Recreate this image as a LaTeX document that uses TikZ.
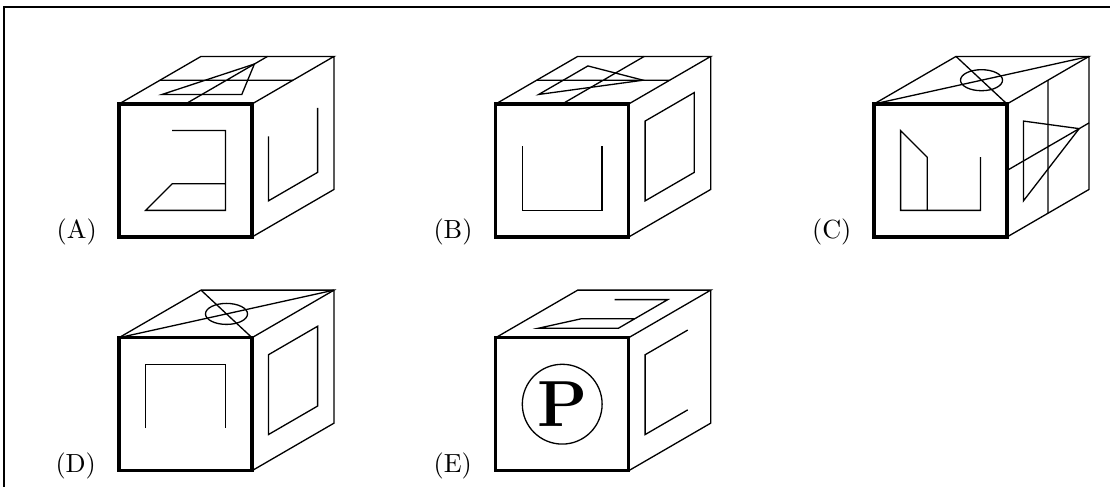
\documentclass[tikz,border=0pt]{standalone}
\tikzset{
  cubeat/.style 2 args={shift={(#1,#2)},x=10.154pt,y=10.154pt,z={(6.26pt,3.63pt)},line width=0.5pt},
  heavy/.style={line width=1.25pt,line join=miter},
  optlabel/.style={anchor=base,inner sep=0pt},
  pxunits/.style={x=0.3817pt,y=0.3817pt}
}
\newcommand{\cubeframe}{%
  \draw (0,5,0) -- (0,5,5) -- (5,5,5) -- (5,5,0) (5,5,5) -- (5,0,5) -- (5,0,0);
  \draw[heavy] (0,0,0) rectangle (5,5,0);
}
\newcommand{\topcross}{%
  \draw (2.5,5,0) -- (2.5,5,5) (0,5,2.5) -- (5,5,2.5);
}
\newcommand{\topdiag}{%
  \draw (0,5,0) -- (5,5,5) (5,5,0) -- (0,5,5);
  \draw (2.5,5,2.5) ellipse [x radius=0.79,y radius=0.395];
}
\begin{document}
\begin{tikzpicture}[pxunits]
\useasboundingbox (0,0) rectangle (1110,487);
\draw[line width=0.8pt] (4,0) -- (4,480.4) -- (1110,480.4);
\node[optlabel] (la) at (76.7,248.5) {(A)};
\node[optlabel] (lb) at (453,248.5) {(B)};
\node[optlabel] (lc) at (831.7,248.5) {(C)};
\node[optlabel] (ld) at (75.7,14.8) {(D)};
\node[optlabel] (le) at (452.7,14.8) {(E)};
% A
\begin{scope}[cubeat={119}{250}]
  \cubeframe \topcross
  \draw (1,5,1) -- (4,5,1) -- (2.5,5,4.2) -- cycle;
  \draw (2,4) -- (4,4) -- (4,1) -- (1,1) -- (2,2) -- (4,2);
  \draw (5,3.42,1) -- (5,1,1) -- (5,1,4) -- (5,3.42,4);
\end{scope}
% B
\begin{scope}[cubeat={495.7}{250}]
  \cubeframe \topcross
  \draw (1,5,1) -- (4,5,2.5) -- (1,5,4) -- cycle;
  \draw (1,3.42) -- (1,1) -- (4,1) -- (4,3.42);
  \draw (5,1,1) -- (5,4,1) -- (5,4,4) -- (5,1,4) -- cycle;
\end{scope}
% C
\begin{scope}[cubeat={874}{250}]
  \cubeframe \topdiag
  \draw (5,0,2.5) -- (5,5,2.5) (5,2.5,0) -- (5,2.5,5);
  \draw (5,1,1) -- (5,4,1) -- (5,2.5,4.4) -- cycle;
  \draw (2,1) -- (2,3) -- (1,4) -- (1,1) -- (4,1) -- (4,3);
\end{scope}
% D
\begin{scope}[cubeat={119}{16.3}]
  \cubeframe \topdiag
  \draw (1,1.6) -- (1,4) -- (4,4) -- (4,1.6);
  \draw (5,1,1) -- (5,4,1) -- (5,4,4) -- (5,1,4) -- cycle;
\end{scope}
% E
\begin{scope}[cubeat={495.7}{16.3}]
  \cubeframe
  \draw (2,5,4) -- (4,5,4) -- (4,5,1) -- (1,5,1) -- (2,5,2) -- (4,5,2);
  \draw (5,4,3.6) -- (5,4,1) -- (5,1,1) -- (5,1,3.6);
  \node[circle,draw,minimum size=30.46pt,inner sep=0pt,line width=0.5pt] (pc) at (2.5,2.5) {};
  \node[inner sep=0pt] (pl) at (pc.center) {\Huge\textbf{P}};
\end{scope}
\end{tikzpicture}
\end{document}
